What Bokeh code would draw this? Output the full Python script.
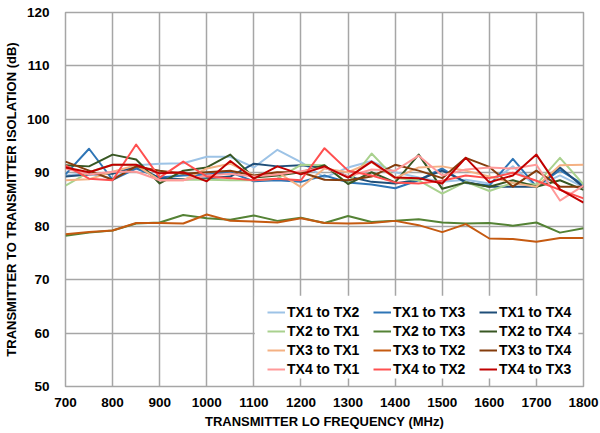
from bokeh.plotting import figure
from bokeh.models import Range1d, Legend, LegendItem, BoxAnnotation, FixedTicker
from bokeh.embed import file_html
from bokeh.resources import INLINE

# Transmitter LO frequency (MHz)
freq = [700, 750, 800, 850, 900, 950, 1000, 1050, 1100, 1150, 1200, 1250,
        1300, 1350, 1400, 1450, 1500, 1550, 1600, 1650, 1700, 1750, 1800]

# Transmitter-to-transmitter isolation (dB)
tx1_tx2 = [89.5, 90.0, 88.9, 91.4, 91.7, 91.8, 93.0, 93.0, 91.0, 94.3, 92.0, 89.1,
           91.0, 92.2, 90.1, 89.1, 88.3, 88.7, 88.0, 91.2, 87.4, 89.5, 87.3]
tx1_tx3 = [89.7, 94.5, 88.7, 90.8, 89.1, 89.5, 89.7, 90.1, 88.4, 88.6, 88.3, 89.5,
           88.2, 87.8, 87.1, 88.6, 90.8, 88.1, 87.6, 92.6, 87.4, 90.5, 87.8]
tx1_tx4 = [89.3, 89.7, 89.8, 91.2, 89.0, 88.8, 89.0, 89.3, 91.7, 91.2, 91.4, 91.0,
           89.3, 88.3, 88.0, 88.7, 90.4, 88.3, 87.4, 87.4, 87.4, 91.0, 87.3]
tx2_tx1 = [87.6, 90.1, 91.5, 91.5, 88.6, 88.7, 88.7, 88.6, 88.6, 88.9, 91.5, 91.4,
           88.0, 93.6, 89.0, 88.6, 86.1, 88.3, 86.6, 88.1, 87.8, 92.8, 87.8]
tx2_tx3 = [78.2, 78.8, 79.2, 80.5, 80.7, 82.1, 81.5, 81.2, 82.0, 81.0, 81.6, 80.6,
           81.9, 80.8, 81.0, 81.3, 80.7, 80.5, 80.6, 80.1, 80.7, 78.8, 79.6]
tx2_tx4 = [91.4, 91.2, 93.4, 92.5, 88.0, 90.4, 91.0, 93.4, 89.1, 89.5, 90.1, 91.4,
           87.9, 90.1, 88.2, 93.4, 87.0, 88.2, 87.4, 88.6, 87.4, 88.6, 86.8]
tx3_tx1 = [88.6, 88.8, 90.2, 91.4, 88.6, 88.6, 90.8, 91.7, 89.5, 90.1, 87.3, 90.8,
           90.1, 92.0, 89.0, 91.0, 91.2, 90.4, 89.3, 88.1, 87.4, 91.4, 91.5]
tx3_tx2 = [78.5, 78.9, 79.2, 80.6, 80.6, 80.5, 82.2, 81.0, 80.9, 80.7, 81.5, 80.6,
           80.5, 80.6, 81.0, 80.2, 78.9, 80.4, 77.7, 77.6, 77.1, 77.8, 77.8]
tx3_tx4 = [92.1, 90.4, 88.7, 91.2, 90.4, 89.8, 90.1, 90.4, 89.5, 90.1, 90.1, 88.7,
           88.6, 89.3, 91.5, 90.4, 89.0, 92.8, 91.1, 87.4, 90.4, 87.4, 87.4]
tx4_tx1 = [90.8, 89.7, 90.2, 90.2, 88.6, 88.6, 89.5, 89.8, 89.3, 89.7, 90.3, 91.0,
           89.3, 90.6, 90.4, 93.2, 89.5, 90.6, 91.0, 90.8, 91.5, 84.8, 87.6]
tx4_tx2 = [91.4, 88.9, 88.6, 95.3, 89.1, 92.1, 89.3, 89.0, 88.6, 88.9, 88.6, 94.6,
           90.4, 89.5, 88.2, 88.0, 88.5, 89.5, 89.0, 90.0, 88.5, 86.8, 85.2]
tx4_tx3 = [91.0, 90.1, 91.5, 91.5, 89.9, 90.1, 88.4, 92.2, 88.9, 91.2, 89.7, 91.2,
           89.1, 92.1, 89.1, 89.0, 88.0, 92.8, 88.2, 89.5, 93.4, 86.9, 84.4]

series_names = ["TX1 to TX2", "TX1 to TX3", "TX1 to TX4",
                "TX2 to TX1", "TX2 to TX3", "TX2 to TX4",
                "TX3 to TX1", "TX3 to TX2", "TX3 to TX4",
                "TX4 to TX1", "TX4 to TX2", "TX4 to TX3"]
series_values = [tx1_tx2, tx1_tx3, tx1_tx4,
                 tx2_tx1, tx2_tx3, tx2_tx4,
                 tx3_tx1, tx3_tx2, tx3_tx4,
                 tx4_tx1, tx4_tx2, tx4_tx3]
series_colors = ["#9DC3E6", "#2E75B6", "#1F4E79",
                 "#A9D18E", "#548235", "#385723",
                 "#F4B183", "#C55A11", "#843C0C",
                 "#FF9999", "#FF5050", "#C00000"]

x_ticks = [700, 800, 900, 1000, 1100, 1200, 1300, 1400, 1500, 1600, 1700, 1800]
y_ticks = [50, 60, 70, 80, 90, 100, 110, 120]

FONT = "Liberation Sans"
GRID = "#A6A6A6"

p = figure(width=600, height=433, output_backend="svg", toolbar_location=None,
           x_range=Range1d(700, 1800), y_range=Range1d(50, 120),
           min_border_left=62, min_border_right=17, min_border_top=12,
           min_border_bottom=47)
p.background_fill_color = "white"
p.border_fill_color = "white"
p.outline_line_color = GRID
p.outline_line_width = 1.5

p.xaxis.ticker = FixedTicker(ticks=x_ticks)
p.yaxis.ticker = FixedTicker(ticks=y_ticks)
p.xaxis.axis_label = "TRANSMITTER LO FREQUENCY (MHz)"
p.yaxis.axis_label = "TRANSMITTER TO TRANSMITTER ISOLATION (dB)"
for ax in (p.xaxis[0], p.yaxis[0]):
    ax.axis_line_color = None
    ax.major_tick_line_color = None
    ax.minor_tick_line_color = None
    ax.major_label_text_font = FONT
    ax.major_label_text_font_style = "bold"
    ax.major_label_text_font_size = "13.5px"
    ax.major_label_text_color = "black"
    ax.axis_label_text_font = FONT
    ax.axis_label_text_font_style = "bold"
    ax.axis_label_text_font_size = "13px"
    ax.axis_label_text_color = "black"
p.yaxis.major_label_standoff = 10
p.xaxis.major_label_standoff = 5
p.xaxis.axis_label_standoff = 4
p.yaxis.axis_label_standoff = 5

for g in (p.xgrid[0], p.ygrid[0]):
    g.grid_line_color = GRID
    g.grid_line_width = 1.5

renderers = []
for name, vals, col in zip(series_names, series_values, series_colors):
    r = p.line(x=freq, y=vals, line_color=col, line_width=2, line_join="round")
    renderers.append(r)

# white panel behind the legend block
p.add_layout(BoxAnnotation(left=1102, right=1789, bottom=51.5, top=67.0,
                           fill_color="white", fill_alpha=1.0, line_color=None))

# three legend columns, four entries each (location = bottom-left offset in the frame)
col_offsets = [202, 308, 414]
for c, xoff in enumerate(col_offsets):
    items = [LegendItem(label=series_names[r * 3 + c], renderers=[renderers[r * 3 + c]])
             for r in range(4)]
    leg = Legend(items=items, location=(xoff, 9), orientation="vertical",
                 background_fill_alpha=0, border_line_color=None,
                 padding=0, margin=0, spacing=3,
                 glyph_width=18, glyph_height=16, label_height=16,
                 label_standoff=2, label_text_font=FONT,
                 label_text_font_style="bold", label_text_font_size="14px",
                 label_text_color="black")
    p.add_layout(leg)

open("out.html", "w").write(file_html(p, INLINE))
